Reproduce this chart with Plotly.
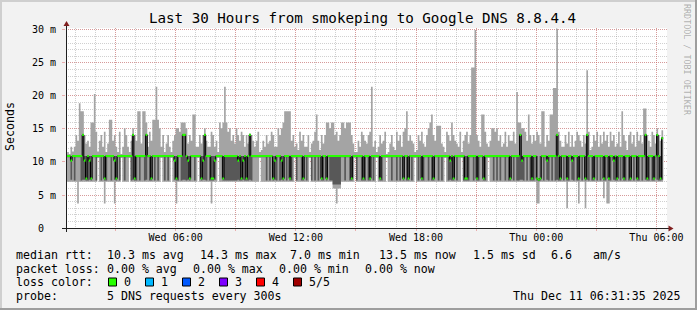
import plotly.graph_objects as go
import pandas as pd

# ---------------- data (ms), one value per 5-minute step, 5 pings sorted ----------------
ping_min = [
    7.0,7.0,7.0,7.0,7.0,7.0,7.0,3.7,7.0,7.0,7.0,7.0,7.0,7.0,7.0,7.0,7.0,7.0,7.0,10.6,
    7.0,7.0,7.0,3.7,7.0,7.0,7.0,7.0,7.0,3.7,7.0,7.0,7.0,10.6,7.0,7.0,7.0,7.0,10.6,7.0,
    7.0,7.0,7.0,7.0,7.0,7.0,7.0,7.0,7.0,7.0,7.0,7.0,7.0,7.0,7.0,7.0,7.0,10.6,7.0,7.0,
    7.0,7.0,7.0,10.6,7.0,7.0,3.7,7.0,7.0,7.0,7.0,7.0,7.0,7.0,7.0,7.0,7.0,7.0,7.0,10.6,
    7.0,7.0,7.0,7.0,7.0,7.0,7.0,3.7,7.0,7.0,7.0,10.6,7.0,7.0,7.0,7.0,7.0,7.0,7.0,7.0,
    7.0,7.0,7.0,7.0,7.0,7.0,7.0,7.0,7.0,7.0,7.0,7.0,7.0,7.0,7.0,7.0,10.6,7.0,7.0,7.0,
    7.0,7.0,7.0,7.0,7.0,7.0,7.0,7.0,7.0,7.0,7.0,7.0,7.0,7.0,7.0,7.0,7.0,10.6,7.0,7.0,
    7.0,7.0,7.0,7.0,7.0,7.0,10.6,7.0,7.0,7.0,7.0,7.0,7.0,7.0,7.0,7.0,7.0,7.0,7.0,7.0,
    6.0,6.0,3.7,6.0,6.0,7.0,7.0,7.0,7.0,7.0,7.0,7.0,7.0,10.6,7.0,7.0,7.0,7.0,7.0,7.0,
    7.0,7.0,7.0,7.0,7.0,7.0,10.6,7.0,7.0,7.0,7.0,7.0,10.6,7.0,7.0,7.0,7.0,7.0,7.0,7.0,
    7.0,7.0,7.0,7.0,7.0,7.0,7.0,7.0,7.0,10.6,7.0,7.0,7.0,7.0,7.0,7.0,7.0,7.0,7.0,7.0,
    7.0,7.0,7.0,7.0,7.0,7.0,7.0,10.6,7.0,7.0,7.0,7.0,7.0,7.0,7.0,7.0,7.0,10.6,7.0,7.0,
    7.0,7.0,7.0,7.0,7.0,7.0,7.0,7.0,7.0,7.0,7.0,7.0,7.0,10.6,7.0,7.0,7.0,7.0,7.0,7.0,
    7.0,7.0,7.0,7.0,7.0,7.0,7.0,7.0,7.0,7.0,7.0,7.0,7.0,7.0,7.0,7.0,7.0,7.0,7.0,7.0,
    7.0,7.0,3.7,3.7,7.0,7.0,7.0,7.0,7.0,7.0,7.0,7.0,7.0,7.0,7.0,7.0,7.0,7.0,7.0,7.0,
    3.0,7.0,7.0,7.0,7.0,7.0,7.0,3.7,7.0,7.0,7.0,3.0,7.0,7.0,7.0,7.0,7.0,7.0,7.0,7.0,
    7.0,7.0,4.5,7.0,3.7,3.7,7.0,7.0,7.0,7.0,7.0,7.0,7.0,7.0,7.0,7.0,7.0,7.0,7.0,7.0,
    7.0,7.0,7.0,7.0,7.0,7.0,7.0,7.0,7.0,7.0,7.0,7.0,7.0,7.0,7.0,7.0,7.0,7.0,
]
ping_q1 = [
    10.7,10.7,10.7,7.3,10.7,7.2,10.7,10.7,10.7,7.2,7.3,7.3,7.2,7.2,7.3,7.2,10.7,10.7,7.2,10.8,
    10.7,7.2,10.7,7.2,7.2,10.7,10.7,7.2,10.7,7.3,7.2,10.7,7.2,10.8,10.7,7.2,10.7,10.7,10.8,7.2,
    7.3,7.2,7.2,10.7,7.2,10.7,10.7,7.2,7.3,10.7,7.2,7.2,10.7,7.2,10.7,7.2,10.7,10.8,10.7,7.2,
    10.7,7.2,10.7,10.8,10.7,7.3,7.2,7.2,10.7,7.2,7.3,7.3,7.2,7.3,7.2,10.7,10.7,7.2,10.7,10.8,
    10.7,7.2,7.3,7.3,7.2,10.7,7.2,7.2,7.2,7.3,10.7,10.8,10.7,10.7,7.2,7.2,7.2,7.2,7.2,7.2,
    7.2,7.2,7.2,7.3,7.2,7.2,7.3,7.2,7.2,7.2,7.3,7.2,10.7,10.7,10.7,10.7,10.8,10.7,10.7,10.7,
    7.2,10.7,7.2,10.7,7.2,7.3,7.2,10.7,7.2,7.3,7.2,10.7,7.2,10.7,7.2,7.2,10.7,10.8,7.2,10.7,
    10.7,7.2,7.2,10.7,7.2,10.7,10.8,7.2,10.7,7.2,10.7,7.2,10.7,7.2,7.2,10.7,7.2,10.7,7.2,7.2,
    6.6,6.6,6.6,6.6,6.6,10.7,10.7,7.2,10.7,10.7,7.2,7.2,10.7,10.8,7.2,10.7,10.7,7.2,7.2,7.2,
    10.7,7.2,7.2,10.7,7.2,10.7,10.8,10.7,7.2,7.2,10.7,10.7,10.8,10.7,10.7,7.2,10.7,10.7,7.2,10.7,
    7.2,10.7,7.2,10.7,7.2,7.2,10.7,7.2,10.7,10.8,10.7,7.2,10.7,7.2,7.2,10.7,10.7,7.2,10.7,7.2,
    7.2,10.7,10.7,7.2,10.7,7.2,10.7,10.8,10.7,7.2,7.3,7.2,7.2,10.7,7.2,10.7,10.7,10.8,7.2,7.2,
    7.2,7.2,10.7,10.7,7.2,10.7,7.2,7.2,10.7,10.7,7.2,7.2,10.7,10.8,10.7,10.7,7.2,10.7,7.2,10.7,
    7.2,10.7,10.7,7.2,10.7,7.2,7.2,10.7,7.2,10.7,7.2,7.2,7.3,7.3,7.2,10.7,7.2,10.7,7.2,7.2,
    7.2,10.7,7.2,7.1,7.2,10.7,7.2,10.7,7.3,7.2,10.7,7.2,10.7,7.2,7.3,7.2,7.2,10.7,7.2,10.7,
    7.2,7.2,10.7,7.3,7.2,10.7,7.2,7.2,10.7,7.2,10.7,7.2,7.3,7.2,10.7,7.2,7.2,10.7,7.2,10.7,
    7.2,10.7,7.2,7.2,10.7,7.2,7.2,10.7,7.3,7.2,7.2,10.7,7.2,10.7,7.2,7.2,10.7,7.2,7.2,10.7,
    7.2,10.7,7.2,7.2,10.7,7.2,10.7,7.3,7.2,7.2,10.7,7.2,7.2,10.7,7.3,7.2,7.2,7.3,
]
rtt_median = [
    10.9,10.9,10.9,10.2,10.9,10.9,10.9,10.9,10.9,10.9,14.1,10.2,7.5,10.9,10.2,7.5,10.9,10.9,10.9,10.9,
    10.9,10.9,10.9,7.5,10.9,10.9,10.9,10.9,10.9,10.2,7.5,10.9,10.9,10.9,10.9,10.9,10.9,10.9,10.9,10.9,
    14.1,7.5,10.9,10.9,10.9,10.9,10.9,10.9,14.1,10.9,10.9,7.5,10.9,10.9,10.9,10.9,10.9,10.9,10.9,10.9,
    10.9,10.9,10.9,10.9,10.9,10.2,7.5,10.9,10.9,10.9,14.1,14.1,10.9,10.2,7.5,10.9,10.9,10.9,10.9,10.9,
    10.9,7.5,10.2,14.1,10.9,10.9,10.9,7.5,7.5,10.2,10.9,10.9,10.9,10.9,7.5,10.9,10.9,10.9,10.9,10.9,
    10.9,10.9,10.9,10.2,10.9,7.5,10.2,10.9,7.5,10.9,14.1,10.9,10.9,10.9,10.9,10.9,10.9,10.9,10.9,10.9,
    10.9,10.9,10.9,10.9,7.5,10.2,10.9,10.9,10.9,10.2,7.5,10.9,10.9,10.9,7.5,10.9,10.9,10.9,10.9,10.9,
    10.9,10.9,7.5,10.9,10.9,10.9,10.9,10.9,10.9,10.9,10.9,10.9,10.9,7.5,10.9,10.9,7.5,10.9,10.9,10.9,
    10.9,10.9,10.9,10.9,10.9,10.9,10.9,10.9,10.9,10.9,10.9,7.5,10.9,10.9,10.9,10.9,10.9,10.9,7.5,10.9,
    10.9,10.9,7.5,10.9,10.9,10.9,10.9,10.9,7.5,10.9,10.9,10.9,10.9,10.9,10.9,10.9,10.9,10.9,10.9,10.9,
    10.9,10.9,7.5,10.9,10.9,7.5,10.9,10.9,10.9,10.9,10.9,10.9,10.9,7.5,10.9,10.9,10.9,10.9,10.9,10.9,
    7.5,10.9,10.9,10.9,10.9,10.9,10.9,10.9,10.9,10.9,10.2,10.9,7.5,10.9,10.9,10.9,10.9,10.9,10.9,7.5,
    7.5,10.9,10.9,10.9,10.9,10.9,7.5,10.9,10.9,10.9,7.5,10.9,10.9,10.9,10.9,10.9,10.9,10.9,10.9,10.9,
    10.9,10.9,10.9,10.9,10.9,10.9,7.5,10.9,10.9,10.9,10.9,10.9,14.1,10.2,10.9,10.9,10.9,10.9,10.9,7.5,
    10.9,10.9,7.5,7.3,7.5,10.9,10.9,10.9,10.2,10.9,10.9,10.9,10.9,10.9,14.1,10.9,7.5,10.9,10.9,10.9,
    7.5,10.9,10.9,10.2,10.9,10.9,10.9,7.5,10.9,10.9,10.9,7.5,14.1,10.9,10.9,10.9,7.5,10.9,10.9,10.9,
    10.9,10.9,7.5,10.9,10.9,7.5,10.9,10.9,10.2,10.9,7.5,10.9,10.9,10.9,7.5,10.9,10.9,10.9,7.5,10.9,
    10.9,10.9,7.5,10.9,10.9,10.9,10.9,14.1,7.5,10.9,10.9,10.9,7.5,10.9,14.1,10.9,7.5,13.6,
]
ping_q3 = [
    11.0,11.0,11.0,10.9,11.0,11.0,11.0,11.0,11.0,11.0,14.2,10.9,10.9,11.0,10.9,10.9,11.0,11.0,11.0,11.0,
    11.0,11.0,11.0,10.9,11.0,11.0,11.0,11.0,11.0,10.9,10.9,11.0,11.0,11.0,11.0,11.0,11.0,11.0,11.0,11.0,
    14.2,10.9,11.0,11.0,11.0,11.0,11.0,11.0,14.2,11.0,11.0,10.9,11.0,11.0,11.0,11.0,11.0,11.0,11.0,11.0,
    11.0,11.0,11.0,11.0,11.0,10.9,10.9,11.0,11.0,11.0,14.2,14.2,11.0,10.9,10.9,11.0,11.0,11.0,11.0,11.0,
    11.0,10.9,10.9,14.2,11.0,11.0,11.0,10.9,10.9,10.9,11.0,11.0,11.0,11.0,10.9,11.0,11.0,11.0,11.0,11.0,
    11.0,11.0,11.0,10.9,11.0,10.9,10.9,11.0,10.9,11.0,14.2,11.0,11.0,11.0,11.0,11.0,11.0,11.0,11.0,11.0,
    11.0,11.0,11.0,11.0,10.9,10.9,11.0,11.0,11.0,10.9,10.9,11.0,11.0,11.0,10.9,11.0,11.0,11.0,11.0,11.0,
    11.0,11.0,10.9,11.0,11.0,11.0,11.0,11.0,11.0,11.0,11.0,11.0,11.0,10.9,11.0,11.0,10.9,11.0,11.0,11.0,
    11.0,11.0,11.0,11.0,11.0,11.0,11.0,11.0,11.0,11.0,11.0,10.9,11.0,11.0,11.0,11.0,11.0,11.0,10.9,11.0,
    11.0,11.0,10.9,11.0,11.0,11.0,11.0,11.0,10.9,11.0,11.0,11.0,11.0,11.0,11.0,11.0,11.0,11.0,11.0,11.0,
    11.0,11.0,10.9,11.0,11.0,10.9,11.0,11.0,11.0,11.0,11.0,11.0,11.0,10.9,11.0,11.0,11.0,11.0,11.0,11.0,
    10.9,11.0,11.0,11.0,11.0,11.0,11.0,11.0,11.0,11.0,10.9,11.0,10.9,11.0,11.0,11.0,11.0,11.0,11.0,10.9,
    10.9,11.0,11.0,11.0,11.0,11.0,10.9,11.0,11.0,11.0,10.9,11.0,11.0,11.0,11.0,11.0,11.0,11.0,11.0,11.0,
    11.0,11.0,11.0,11.0,11.0,11.0,10.9,11.0,11.0,11.0,11.0,11.0,14.2,10.9,11.0,11.0,11.0,11.0,11.0,10.9,
    11.0,11.0,10.9,7.5,10.9,11.0,11.0,11.0,10.9,11.0,11.0,11.0,11.0,11.0,14.2,11.0,10.9,11.0,11.0,11.0,
    10.9,11.0,11.0,10.9,11.0,11.0,11.0,10.9,11.0,11.0,11.0,10.9,14.2,11.0,11.0,11.0,10.9,11.0,11.0,11.0,
    11.0,11.0,10.9,11.0,11.0,10.9,11.0,11.0,10.9,11.0,10.9,11.0,11.0,11.0,10.9,11.0,11.0,11.0,10.9,11.0,
    11.0,11.0,10.9,11.0,11.0,11.0,11.0,14.2,10.9,11.0,11.0,11.0,10.9,11.0,14.2,11.0,10.9,13.8,
]
ping_max = [
    11.2,11.5,11.2,12.3,11.6,12.3,14.1,13.2,18.9,17.7,17.7,14.1,12.8,13.2,12.3,16.0,16.0,20.3,14.6,11.6,
    13.2,14.1,12.3,14.6,11.5,12.8,16.4,16.4,13.2,14.1,12.3,11.5,14.6,11.2,12.3,15.1,14.1,12.3,11.5,13.2,
    15.1,14.1,13.2,17.7,17.7,12.8,17.7,17.7,16.0,12.3,14.6,13.2,16.4,16.4,21.4,16.4,15.1,12.3,14.1,11.5,
    12.8,14.1,12.3,11.5,13.2,14.1,15.1,15.1,14.6,16.0,16.0,16.0,15.1,12.8,14.1,13.2,17.2,17.2,12.3,12.3,
    14.1,12.8,14.1,15.1,13.2,12.3,12.3,14.6,14.1,12.3,13.2,11.5,16.0,15.1,16.0,21.4,16.0,14.6,15.1,13.2,
    14.1,12.8,15.1,14.1,13.2,14.6,14.1,12.3,14.1,12.8,14.3,14.1,13.2,12.3,13.2,14.6,11.5,11.8,13.2,12.3,
    14.1,12.8,13.2,14.6,14.1,12.3,12.3,15.1,14.1,15.1,16.0,17.7,17.7,17.7,17.7,13.2,14.1,12.3,12.8,11.8,
    14.6,13.2,14.1,12.3,12.3,14.1,11.5,12.8,13.2,14.6,17.2,13.2,11.8,14.1,12.8,14.1,16.0,16.0,15.1,16.0,
    16.0,14.1,14.6,13.2,14.1,16.0,16.0,15.1,16.0,16.0,16.0,14.1,12.8,11.5,11.5,13.2,12.3,14.6,14.1,13.2,
    12.8,14.1,14.6,21.4,12.3,13.2,11.5,12.3,14.1,12.8,13.2,14.6,11.2,11.5,12.8,14.1,12.3,11.8,14.6,13.2,
    14.1,12.3,14.6,15.1,17.7,13.2,14.1,13.2,12.8,11.5,11.8,14.1,13.2,14.6,12.8,12.3,14.1,15.1,16.0,17.2,
    14.1,13.2,15.5,15.5,15.5,12.8,12.3,11.5,14.6,14.1,13.2,16.0,14.1,13.2,12.8,12.3,14.6,11.5,13.2,14.1,
    14.6,12.8,14.1,24.3,24.3,30.0,14.1,13.2,12.3,17.2,17.2,14.6,12.8,12.3,13.2,15.1,15.1,14.6,15.1,13.2,
    14.1,12.3,12.8,14.6,12.3,14.1,13.2,13.2,14.6,12.8,20.6,16.0,16.0,15.1,15.1,14.6,13.2,17.2,14.1,12.8,
    14.1,13.2,14.6,14.1,12.8,17.7,17.7,12.3,14.1,13.2,17.2,17.2,21.2,21.2,30.2,14.6,13.2,12.3,12.3,14.1,
    12.8,14.6,12.3,14.1,12.3,13.2,14.6,14.1,13.2,12.3,14.1,12.8,23.9,14.6,11.8,12.3,14.1,13.2,14.6,12.3,
    14.1,12.8,14.6,13.2,14.1,12.3,14.6,13.2,14.1,12.3,12.8,14.6,12.3,17.7,14.1,13.2,11.8,14.1,14.6,12.8,
    14.1,12.3,14.6,13.2,14.1,12.8,18.1,18.1,14.1,13.2,12.3,14.6,14.1,12.8,15.1,14.1,13.2,14.8,
]

first_step = "2025-12-10 00:30:00"
graph_start = "2025-12-10 00:31:35"
graph_end = "2025-12-11 06:31:35"
tick_times = ["2025-12-10 03:00", "2025-12-10 06:00", "2025-12-10 09:00", "2025-12-10 12:00",
              "2025-12-10 15:00", "2025-12-10 18:00", "2025-12-10 21:00", "2025-12-11 00:00",
              "2025-12-11 03:00", "2025-12-11 06:00"]
tick_labels = ["", "Wed 06:00", "", "Wed 12:00", "", "Wed 18:00", "", "Thu 00:00", "", "Thu 06:00"]
y_tickvals = [0, 5, 10, 15, 20, 25, 30]
y_ticktext = ["0\u00a0\u00a0", "5 m", "10 m", "15 m", "20 m", "25 m", "30 m"]

loss_labels = ["0", "1", "2", "3", "4", "5/5"]
loss_colors = ["#26ff00", "#00b8ff", "#0059ff", "#7e00ff", "#ff0000", "#a00000"]

# ---------------- layout helpers ----------------
W, H = 697, 310
L, T, PW, PH = 66, 28, 601, 200
MONO = "DejaVu Sans Mono"
GRID = "rgba(143,143,143,0.42)"
MGRID = "rgba(222,79,79,0.42)"
AXIS = "#1f1f1f"
ARROW = "#801f1f"


def px(x):
    return (x - L) / PW


def py(y):
    return (T + PH - y) / PH


n = len(rtt_median)
edges = pd.date_range(first_step, periods=n + 1, freq="5min")


def stepped(v):
    return list(v) + [v[-1]]


fig = go.Figure()


def band(lower, upper, color):
    fig.add_trace(go.Scatter(x=edges, y=stepped(lower), mode="lines", line=dict(width=0, shape="hv"),
                             hoverinfo="skip", showlegend=False))
    fig.add_trace(go.Scatter(x=edges, y=stepped(upper), mode="lines", line=dict(width=0, shape="hv"),
                             fill="tonexty", fillcolor=color, hoverinfo="skip", showlegend=False))


band(ping_min, ping_max, "#a4a4a4")
band(ping_q1, ping_q3, "#585858")
fig.add_trace(go.Scatter(x=edges, y=stepped(rtt_median), mode="lines",
                         line=dict(width=1, color="#000000", shape="hv"), hoverinfo="skip", showlegend=False))
sw = 0.16
band([m - sw for m in rtt_median], [m + sw for m in rtt_median], loss_colors[0])

fig.update_layout(
    width=W, height=H, margin=dict(l=L, r=W - L - PW, t=T, b=H - T - PH),
    paper_bgcolor="#f2f2f2", plot_bgcolor="#ffffff", showlegend=False,
    font=dict(family=MONO, color="#000000"),
)
fig.update_xaxes(
    type="date", range=[graph_start, graph_end], tickmode="array", tickvals=tick_times, ticktext=tick_labels,
    ticks="outside", ticklen=2, tickcolor=MGRID, tickfont=dict(family=MONO, size=10, color="#000"),
    showgrid=True, gridcolor=MGRID, griddash="1px,1px", gridwidth=1,
    minor=dict(dtick=3600000, tick0="2025-12-10 00:00", showgrid=True, gridcolor=GRID, griddash="1px,1px"),
    showline=False, zeroline=False, layer="above traces", fixedrange=True, ticklabelstandoff=-2,
)
fig.update_yaxes(
    range=[0, 30.3], tickmode="array", tickvals=y_tickvals, ticktext=y_ticktext,
    ticks="outside", ticklen=3, tickcolor=MGRID, tickfont=dict(family=MONO, size=10, color="#000"),
    showgrid=True, gridcolor=MGRID, griddash="1px,1px", gridwidth=1,
    minor=dict(dtick=1, tick0=0, showgrid=True, gridcolor=GRID, griddash="1px,1px"),
    showline=False, zeroline=False, layer="above traces", fixedrange=True, ticklabelstandoff=4,
)

shapes = []
# frame shading
shapes.append(dict(type="rect", xref="paper", yref="paper", x0=px(0), x1=px(W), y0=py(0), y1=py(2),
                   fillcolor="#cfcfcf", line=dict(width=0), layer="below"))
shapes.append(dict(type="rect", xref="paper", yref="paper", x0=px(0), x1=px(2), y0=py(0), y1=py(H),
                   fillcolor="#cfcfcf", line=dict(width=0), layer="below"))
shapes.append(dict(type="rect", xref="paper", yref="paper", x0=px(0), x1=px(W), y0=py(H - 2), y1=py(H),
                   fillcolor="#9e9e9e", line=dict(width=0), layer="below"))
shapes.append(dict(type="rect", xref="paper", yref="paper", x0=px(W - 2), x1=px(W), y0=py(0), y1=py(H),
                   fillcolor="#9e9e9e", line=dict(width=0), layer="below"))
# axes with arrows
shapes.append(dict(type="line", xref="paper", yref="paper", x0=px(62), x1=px(669), y0=py(228.5), y1=py(228.5),
                   line=dict(color=AXIS, width=1)))
shapes.append(dict(type="line", xref="paper", yref="paper", x0=px(66.5), x1=px(66.5), y0=py(232), y1=py(25),
                   line=dict(color=AXIS, width=1)))
shapes.append(dict(type="path", xref="paper", yref="paper",
                   path=f"M {px(668.5)},{py(225.5)} L {px(673.5)},{py(228.5)} L {px(668.5)},{py(231.5)} Z",
                   fillcolor=ARROW, line=dict(width=0)))
shapes.append(dict(type="path", xref="paper", yref="paper",
                   path=f"M {px(63.5)},{py(26)} L {px(66.5)},{py(21)} L {px(69.5)},{py(26)} Z",
                   fillcolor=ARROW, line=dict(width=0)))
# loss colour legend boxes
box_x = [108.5, 145.5, 182.5, 219.5, 256.5, 293.5]
for bx, col in zip(box_x, loss_colors):
    shapes.append(dict(type="rect", xref="paper", yref="paper", x0=px(bx), x1=px(bx + 8), y0=py(278), y1=py(286),
                       fillcolor=col, line=dict(color="#000000", width=1)))
fig.update_layout(shapes=shapes)

annotations = []


def text(t, x, y, size=11.6, anchor="left", color="#000000", angle=0):
    annotations.append(dict(text=t.replace(" ", "\u00a0"), x=px(x), y=py(y), xref="paper", yref="paper",
                            xanchor=anchor, yanchor="middle", showarrow=False, textangle=angle,
                            font=dict(family=MONO, size=size, color=color), borderpad=0, borderwidth=0))


text("Last 30 Hours from smokeping to Google DNS 8.8.4.4", 362, 18.5, size=14.2, anchor="center")
text("Seconds", 10, 127, size=11.6, anchor="center", angle=-90)
text("RRDTOOL / TOBI OETIKER", 687, 60, size=8.4, anchor="center", color="rgba(0,0,0,0.3)", angle=90)

r1, r2, r3, r4 = 254.5, 268.5, 282, 296
text("median rtt:", 16, r1)
for s, x in [("10.3 ms avg", 107), ("14.3 ms max", 200), ("7.0 ms min", 290), ("13.5 ms now", 379),
             ("1.5 ms sd", 473), ("6.6", 551), ("am/s", 593)]:
    text(s, x, r1)
text("packet loss:", 16, r2)
for s, x in [("0.00 % avg", 107), ("0.00 % max", 193), ("0.00 % min", 279), ("0.00 % now", 365)]:
    text(s, x, r2)
text("loss color:", 16, r3)
for lab, bx in zip(loss_labels, box_x):
    text(lab, bx + 15.5, r3)
text("probe:", 16, r4)
text("5 DNS requests every 300s", 107, r4)
text("Thu Dec 11 06:31:35 2025", 681, r4, anchor="right")
fig.update_layout(annotations=annotations)

fig.write_html("out.html", config={"displayModeBar": False})
